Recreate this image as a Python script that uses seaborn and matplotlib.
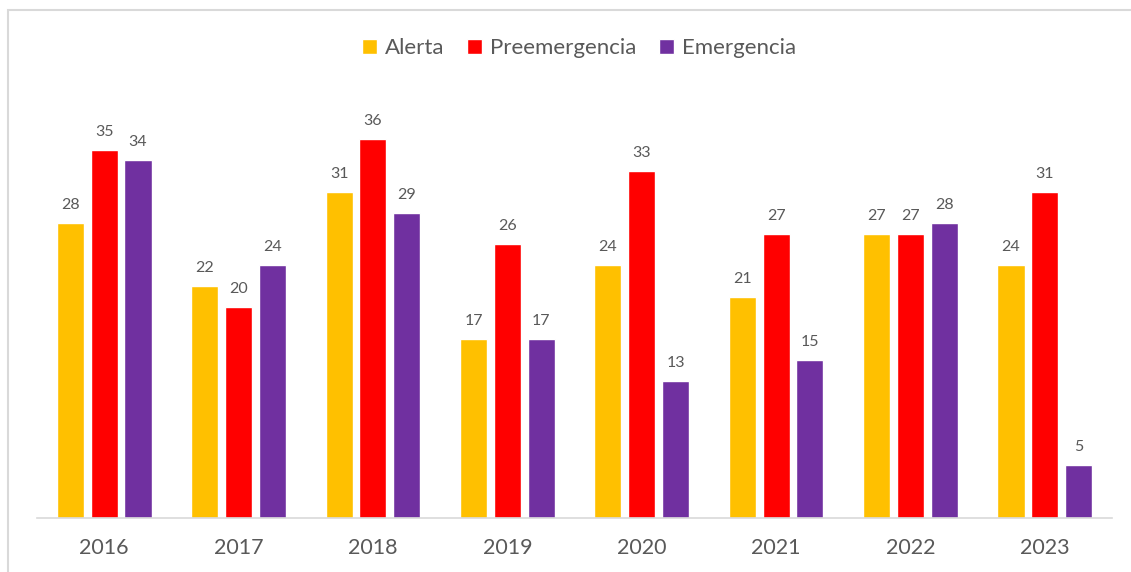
import matplotlib
matplotlib.use("Agg")
import matplotlib.pyplot as plt
from matplotlib.patches import Rectangle
import seaborn as sns
import pandas as pd

years = ["2016", "2017", "2018", "2019", "2020", "2021", "2022", "2023"]
series = ["Alerta", "Preemergencia", "Emergencia"]
alerta = [28, 22, 31, 17, 24, 21, 27, 24]
preemergencia = [35, 20, 36, 26, 33, 27, 27, 31]
emergencia = [34, 24, 29, 17, 13, 15, 28, 5]
colors = ["#FFC000", "#FF0000", "#7030A0"]

df = pd.DataFrame({
    "year": years * 3,
    "serie": [series[0]] * 8 + [series[1]] * 8 + [series[2]] * 8,
    "value": alerta + preemergencia + emergencia,
})

sns.set_theme(style="white")
plt.rcParams['font.family'] = ['Lato', 'DejaVu Sans']
text_color = "#595959"

fig = plt.figure(figsize=(11.31, 5.72), dpi=100)
ax = fig.add_axes([37 / 1131, 1 - 517.5 / 572, (1112 - 37) / 1131, 416 / 572])

sns.barplot(data=df, x="year", y="value", hue="serie", palette=colors,
            order=years, hue_order=series, width=0.755, gap=0.2,
            saturation=1, ax=ax, legend=True)

for cont in ax.containers:
    ax.bar_label(cont, padding=8, fontsize=11.5, color=text_color)

ax.set_ylim(0, 39.6)
ax.set_xlim(-0.5, 7.5)
ax.set_xlabel("")
ax.set_ylabel("")
ax.set_yticks([])
for s in ["top", "right", "left"]:
    ax.spines[s].set_visible(False)
ax.spines["bottom"].set_color("#D9D9D9")
ax.spines["bottom"].set_linewidth(1.2)
ax.tick_params(axis="x", labelsize=15.5, labelcolor=text_color, length=0, pad=15)

handles, labels = ax.get_legend_handles_labels()
ax.legend_.remove()
fig.legend(handles, labels, loc="center", bbox_to_anchor=(579 / 1131, 1 - 48 / 572),
           ncol=3, frameon=False, fontsize=16, labelcolor=text_color,
           handlelength=0.65, handleheight=0.65, handletextpad=0.35, columnspacing=1.05)

fig.patches.append(Rectangle((8 / 1131, -0.05), 1.2, 1 - 10 / 572 + 0.05,
                             transform=fig.transFigure, fill=False,
                             edgecolor="#D9D9D9", linewidth=1.5))

fig.savefig("out.png", dpi=100)
